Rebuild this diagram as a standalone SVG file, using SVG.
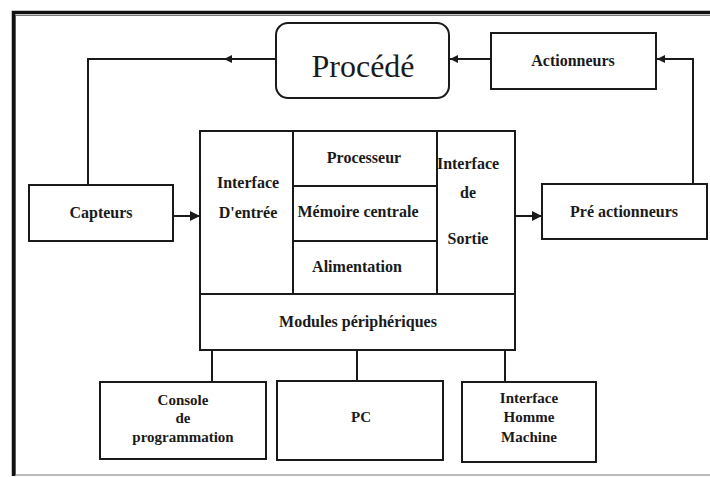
<svg xmlns="http://www.w3.org/2000/svg" width="710" height="477" viewBox="0 0 710 477">
<style>
.box{fill:#fff;stroke:#1a1a1a;stroke-width:2}
.ln{fill:none;stroke:#1a1a1a;stroke-width:2}
.t{font-family:"Liberation Serif","Times New Roman",serif;font-weight:bold;font-size:16px;fill:#1a1a1a;text-anchor:middle}
.s{font-size:15px}
.big{font-weight:normal;font-size:32px}
</style>
<defs>
<marker id="ah" markerUnits="userSpaceOnUse" markerWidth="12" markerHeight="10" refX="10" refY="5" orient="auto">
<path d="M0,0 L10,5 L0,10 Z" fill="#1a1a1a"/>
</marker>
<marker id="as" markerUnits="userSpaceOnUse" markerWidth="10" markerHeight="8" refX="8" refY="4" orient="auto">
<path d="M0,0 L8,4 L0,8 Z" fill="#1a1a1a"/>
</marker>
</defs>
<rect x="0" y="0" width="710" height="477" fill="#fff"/>
<g id="frame">
<rect x="15.5" y="15.5" width="720" height="459.5" fill="none" stroke="#777" stroke-width="1"/>
<path d="M13.5,476 V12.5 H712" fill="none" stroke="#111" stroke-width="3.5"/>
</g>
<g id="connectors">
<path class="ln" d="M276,59 H224" marker-end="url(#as)"/>
<path class="ln" d="M224,59 H88 V185"/>
<path class="ln" d="M491,59 H450" marker-end="url(#as)"/>
<path class="ln" d="M693,184 V59 H657" marker-end="url(#as)"/>
<path class="ln" d="M173,216 H200" marker-end="url(#ah)"/>
<path class="ln" d="M515,216 H542" marker-end="url(#ah)"/>
<path class="ln" d="M212,350 V382"/>
<path class="ln" d="M357,350 V381"/>
<path class="ln" d="M505,350 V382"/>
</g>
<g id="procede">
<rect class="box" x="276" y="23" width="173" height="75" rx="12"/>
<text class="t big" x="363" y="77">Procédé</text>
</g>
<g id="actionneurs">
<rect class="box" x="491" y="33" width="165" height="56"/>
<text class="t" x="573" y="66">Actionneurs</text>
</g>
<g id="capteurs">
<rect class="box" x="29" y="185" width="144" height="56"/>
<text class="t" x="101" y="218">Capteurs</text>
</g>
<g id="pre-actionneurs">
<rect class="box" x="542" y="184" width="165" height="55"/>
<text class="t" x="624" y="217">Pré actionneurs</text>
</g>
<g id="automate">
<rect class="box" x="200" y="131" width="315" height="219"/>
<path class="ln" d="M293,131 V294 M437,131 V294 M293,186 H437 M293,241 H437 M200,294 H515"/>
</g>
<g id="interface-entree">
<text class="t" x="248" y="188">Interface</text>
<text class="t" x="248" y="218">D'entrée</text>
</g>
<g id="processeur">
<text class="t" x="364" y="163">Processeur</text>
</g>
<g id="memoire">
<text class="t" x="358" y="217">Mémoire centrale</text>
</g>
<g id="alimentation">
<text class="t" x="357" y="272">Alimentation</text>
</g>
<g id="interface-sortie">
<text class="t" x="468" y="169">Interface</text>
<text class="t" x="468" y="198">de</text>
<text class="t" x="468" y="244">Sortie</text>
</g>
<g id="modules">
<text class="t" x="358" y="327">Modules périphériques</text>
</g>
<g id="console">
<rect class="box" x="100" y="382" width="166" height="77"/>
<text class="t s" x="183" y="405">Console</text>
<text class="t s" x="183" y="423">de</text>
<text class="t s" x="183" y="442">programmation</text>
</g>
<g id="pc">
<rect class="box" x="277" y="381" width="166" height="79"/>
<text class="t s" x="361" y="422">PC</text>
</g>
<g id="ihm">
<rect class="box" x="462" y="382" width="134" height="80"/>
<text class="t s" x="529" y="403">Interface</text>
<text class="t s" x="529" y="422">Homme</text>
<text class="t s" x="529" y="442">Machine</text>
</g>
</svg>
